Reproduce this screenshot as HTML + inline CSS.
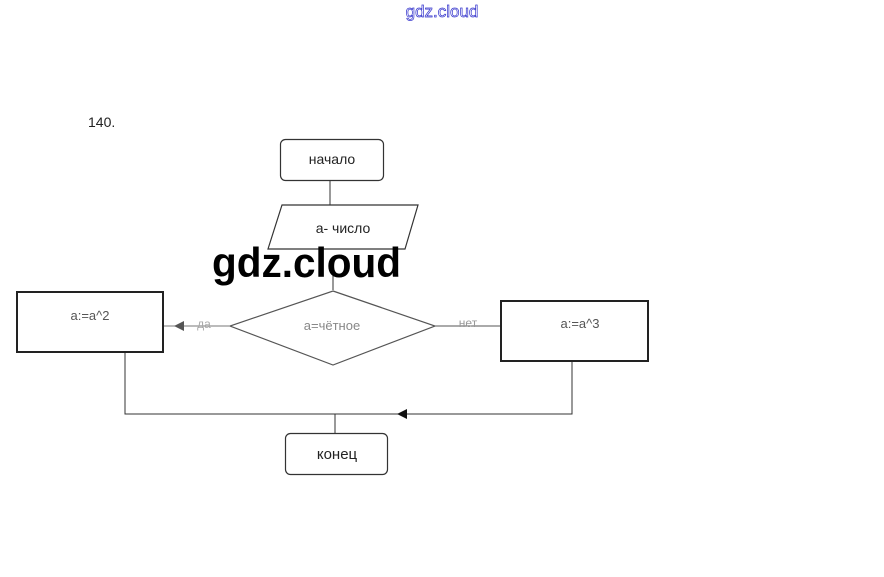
<!DOCTYPE html>
<html><head><meta charset="utf-8"><style>
body{margin:0;background:#fff;width:884px;height:577px;overflow:hidden}
svg{display:block}
text{font-family:"Liberation Sans","DejaVu Sans",sans-serif}
</style></head><body>
<svg width="884" height="577" viewBox="0 0 884 577" xmlns="http://www.w3.org/2000/svg">
<text x="442" y="17" font-size="17" fill="#fff" stroke="#3333cc" stroke-width="0.7" text-anchor="middle">gdz.cloud</text>
<text x="88" y="127" font-size="14" fill="#222">140.</text>
<rect x="280.5" y="139.5" width="103" height="41" rx="5" fill="#fff" stroke="#333" stroke-width="1.2"/>
<text x="332" y="164" font-size="14" text-anchor="middle" fill="#222">начало</text>
<line x1="330" y1="180" x2="330" y2="205" stroke="#333"/>
<polygon points="282,205 418,205 405,249 268,249" fill="#fff" stroke="#333" stroke-width="1.2"/>
<text x="343" y="233" font-size="14" text-anchor="middle" fill="#222">а- число</text>
<line x1="333" y1="270" x2="333" y2="290" stroke="#333"/>
<polygon points="333,291 435,326 333,365 230,326" fill="#fff" stroke="#555" stroke-width="1.2"/>
<text x="332" y="330" font-size="13" text-anchor="middle" fill="#888">а=чётное</text>
<line x1="164" y1="326" x2="230" y2="326" stroke="#777"/>
<polygon points="174,326 184,321 184,331" fill="#555"/>
<text x="204" y="328" font-size="12" text-anchor="middle" fill="#aaa">да</text>
<line x1="435" y1="326" x2="500" y2="326" stroke="#555"/>
<text x="468" y="327" font-size="12" text-anchor="middle" fill="#999">нет</text>
<rect x="17" y="292" width="146" height="60" fill="#fff" stroke="#222" stroke-width="2"/>
<text x="90" y="320" font-size="13" text-anchor="middle" fill="#555">а:=а^2</text>
<rect x="501" y="301" width="147" height="60" fill="#fff" stroke="#222" stroke-width="2"/>
<text x="580" y="328" font-size="13" text-anchor="middle" fill="#555">а:=а^3</text>
<polyline points="125,353 125,414 572,414 572,362" fill="none" stroke="#333" stroke-width="1"/>
<polygon points="397,414 407,409 407,419" fill="#111"/>
<line x1="335" y1="414" x2="335" y2="433" stroke="#333"/>
<rect x="285.5" y="433.5" width="102" height="41" rx="5" fill="#fff" stroke="#333" stroke-width="1.2"/>
<text x="337" y="459" font-size="15" text-anchor="middle" fill="#222">конец</text>
<text x="212" y="277" font-size="42" font-weight="bold" fill="#000" textLength="189" lengthAdjust="spacingAndGlyphs">gdz.cloud</text>
</svg>
</body></html>
